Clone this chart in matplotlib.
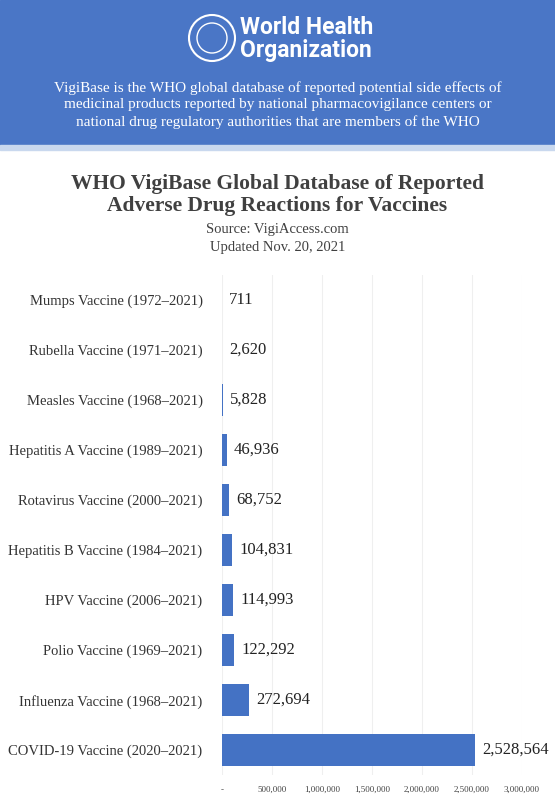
import matplotlib.pyplot as plt
from matplotlib.patches import Rectangle, Circle, Ellipse

categories = ["Mumps Vaccine (1972–2021)", "Rubella Vaccine (1971–2021)", "Measles Vaccine (1968–2021)",
              "Hepatitis A Vaccine (1989–2021)", "Rotavirus Vaccine (2000–2021)", "Hepatitis B Vaccine (1984–2021)",
              "HPV Vaccine (2006–2021)", "Polio Vaccine (1969–2021)", "Influenza Vaccine (1968–2021)",
              "COVID-19 Vaccine (2020–2021)"]
values = [711, 2620, 5828, 46936, 68752, 104831, 114993, 122292, 272694, 2528564]
xticks = [0, 500000, 1000000, 1500000, 2000000, 2500000, 3000000]
xticklabels = ["-", "500,000", "1,000,000", "1,500,000", "2,000,000", "2,500,000", "3,000,000"]

blue = "#4472C4"
serif = ["Liberation Serif", "DejaVu Serif"]
fig = plt.figure(figsize=(5.55, 8), dpi=100)
fig.patches.append(Rectangle((0, 1-145/800), 1, 145/800, transform=fig.transFigure, color="#4a76c6", zorder=0))
fig.patches.append(Rectangle((0, 1-150/800), 1, 5/800, transform=fig.transFigure, color="#c9d8ee", zorder=0))
# simple emblem
fig.patches.append(Ellipse((212/555, 1-38/800), 46/555, 46/800, transform=fig.transFigure, fill=False, ec="white", lw=1.5))
fig.patches.append(Ellipse((212/555, 1-38/800), 30/555, 30/800, transform=fig.transFigure, fill=False, ec="white", lw=1))
fig.text(240/555, 1-27/800, "World Health", color="white", fontsize=16.5, fontweight="bold", family="Roboto", va="center")
fig.text(240/555, 1-51/800, "Organization", color="white", fontsize=16.5, fontweight="bold", family="Roboto", va="center")
fig.text(0.5, 1-105/800, "VigiBase is the WHO global database of reported potential side effects of\n"
         "medicinal products reported by national pharmacovigilance centers or\n"
         "national drug regulatory authorities that are members of the WHO",
         color="white", fontsize=11, family=serif, ha="center", va="center", linespacing=1.35)
fig.text(0.5, 1-195/800, "WHO VigiBase Global Database of Reported\nAdverse Drug Reactions for Vaccines",
         fontsize=15.5, fontweight="bold", family=serif, ha="center", va="center", color="#404040", linespacing=1.15)
fig.text(0.5, 1-229/800, "Source: VigiAccess.com", fontsize=10.5, family=serif, ha="center", va="center", color="#404040")
fig.text(0.5, 1-247/800, "Updated Nov. 20, 2021", fontsize=10.5, family=serif, ha="center", va="center", color="#404040")

ax = fig.add_axes([222/555, 1-775/800, 300/555, 500/800])
y = list(range(len(categories)))
ax.barh(y, values, height=0.64, color=blue, zorder=2)
ax.set_ylim(len(categories)-0.5, -0.5)
ax.set_xlim(0, 3000000)
for yi, v in zip(y, values):
    ax.text(v + 70000, yi, f"{v:,}", va="center", ha="left", fontsize=12, family=serif, color="#222222")
ax.set_yticks(y)
ax.set_yticklabels(categories, family=serif, fontsize=10.5, color="#333333")
ax.set_xticks(xticks)
ax.set_xticklabels(xticklabels, family=serif, fontsize=6.5, color="#444444")
ax.tick_params(length=0, pad=8)
ax.tick_params(axis="y", pad=14)
ax.grid(axis="x", color="#efefef", lw=0.8, zorder=0)
for s in ax.spines.values():
    s.set_visible(False)
fig.savefig("out.png", dpi=100)
